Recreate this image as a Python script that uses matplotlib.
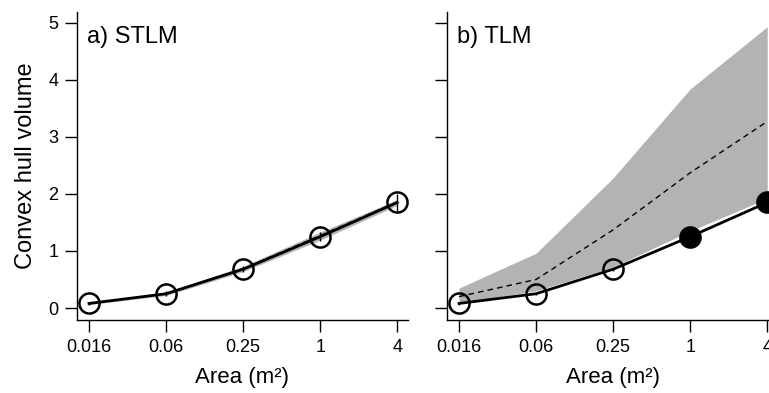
import numpy as np
from matplotlib import pyplot as plt

plt.rcParams['font.family'] = ['Liberation Sans', 'DejaVu Sans']

# Area categories (m2)
areas = ["0.016", "0.06", "0.25", "1", "4"]

# a) STLM: observed convex hull volume, with null band
stlm_obs = [0.08, 0.25, 0.68, 1.25, 1.85]
stlm_err = [0.03, 0.04, 0.05, 0.08, 0.15]
stlm_mean = [0.08, 0.25, 0.69, 1.27, 1.86]
stlm_low = [0.06, 0.22, 0.64, 1.19, 1.80]
stlm_high = [0.10, 0.28, 0.73, 1.33, 1.90]

# b) TLM: observed values, null mean (dashed) and null band
tlm_obs = [0.08, 0.25, 0.68, 1.25, 1.85]
tlm_err = [0.02, 0.02, 0.03, 0.03, 0.04]
tlm_signif = [False, False, False, True, True]
tlm_mean = [0.20, 0.50, 1.37, 2.37, 3.27]
tlm_low = [0.09, 0.30, 0.72, 1.35, 1.92]
tlm_high = [0.35, 0.96, 2.28, 3.84, 4.93]

fig = plt.figure(figsize=(7.69, 3.93), dpi=100)
ax1 = fig.add_axes([0.1001, 0.1858, 0.4304, 0.7837])
ax2 = fig.add_axes([0.5813, 0.1858, 0.4304, 0.7837])

x = np.arange(len(areas))


def draw_panel(ax, obs, err, mean, low, high, signif, title, ylabels):
    ax.fill_between(x, low, high, color="#b3b3b3", lw=0, zorder=1)
    ax.plot(x, mean, color="black", lw=1.0, ls=(0, (4, 3)), zorder=2)
    ax.plot(x, obs, color="black", lw=2.0, zorder=3)
    ax.vlines(x, np.array(obs) - np.array(err), np.array(obs) + np.array(err),
              color="black", lw=1.0, zorder=4)
    for xi, yi, s in zip(x, obs, signif):
        ax.plot(xi, yi, marker="o", ms=14.5, mew=1.8, mec="black",
                mfc="black" if s else "none", zorder=5)
    ax.set_xlim(-0.156, 4.14)
    ax.set_ylim(-0.21, 5.19)
    ax.set_xticks(x)
    ax.set_xticklabels(areas)
    ax.set_yticks(range(6))
    if not ylabels:
        ax.set_yticklabels([])
    ax.spines["top"].set_visible(False)
    ax.spines["right"].set_visible(False)
    for s in ("left", "bottom"):
        ax.spines[s].set_linewidth(1.0)
    ax.tick_params(direction="out", length=8.5, width=1.0, labelsize=13, pad=5)
    ax.set_xlabel("Area (m²)", fontsize=16, labelpad=8)
    ax.text(0.03, 0.92, title, transform=ax.transAxes, fontsize=17,
            ha="left", va="center")
    ax.set_facecolor("none")


draw_panel(ax1, stlm_obs, stlm_err, stlm_mean, stlm_low, stlm_high,
           [False] * 5, "a) STLM", True)
draw_panel(ax2, tlm_obs, tlm_err, tlm_mean, tlm_low, tlm_high,
           tlm_signif, "b) TLM", False)
ax1.set_ylabel("Convex hull volume", fontsize=17, labelpad=8)

fig.savefig("out.png", dpi=100)
